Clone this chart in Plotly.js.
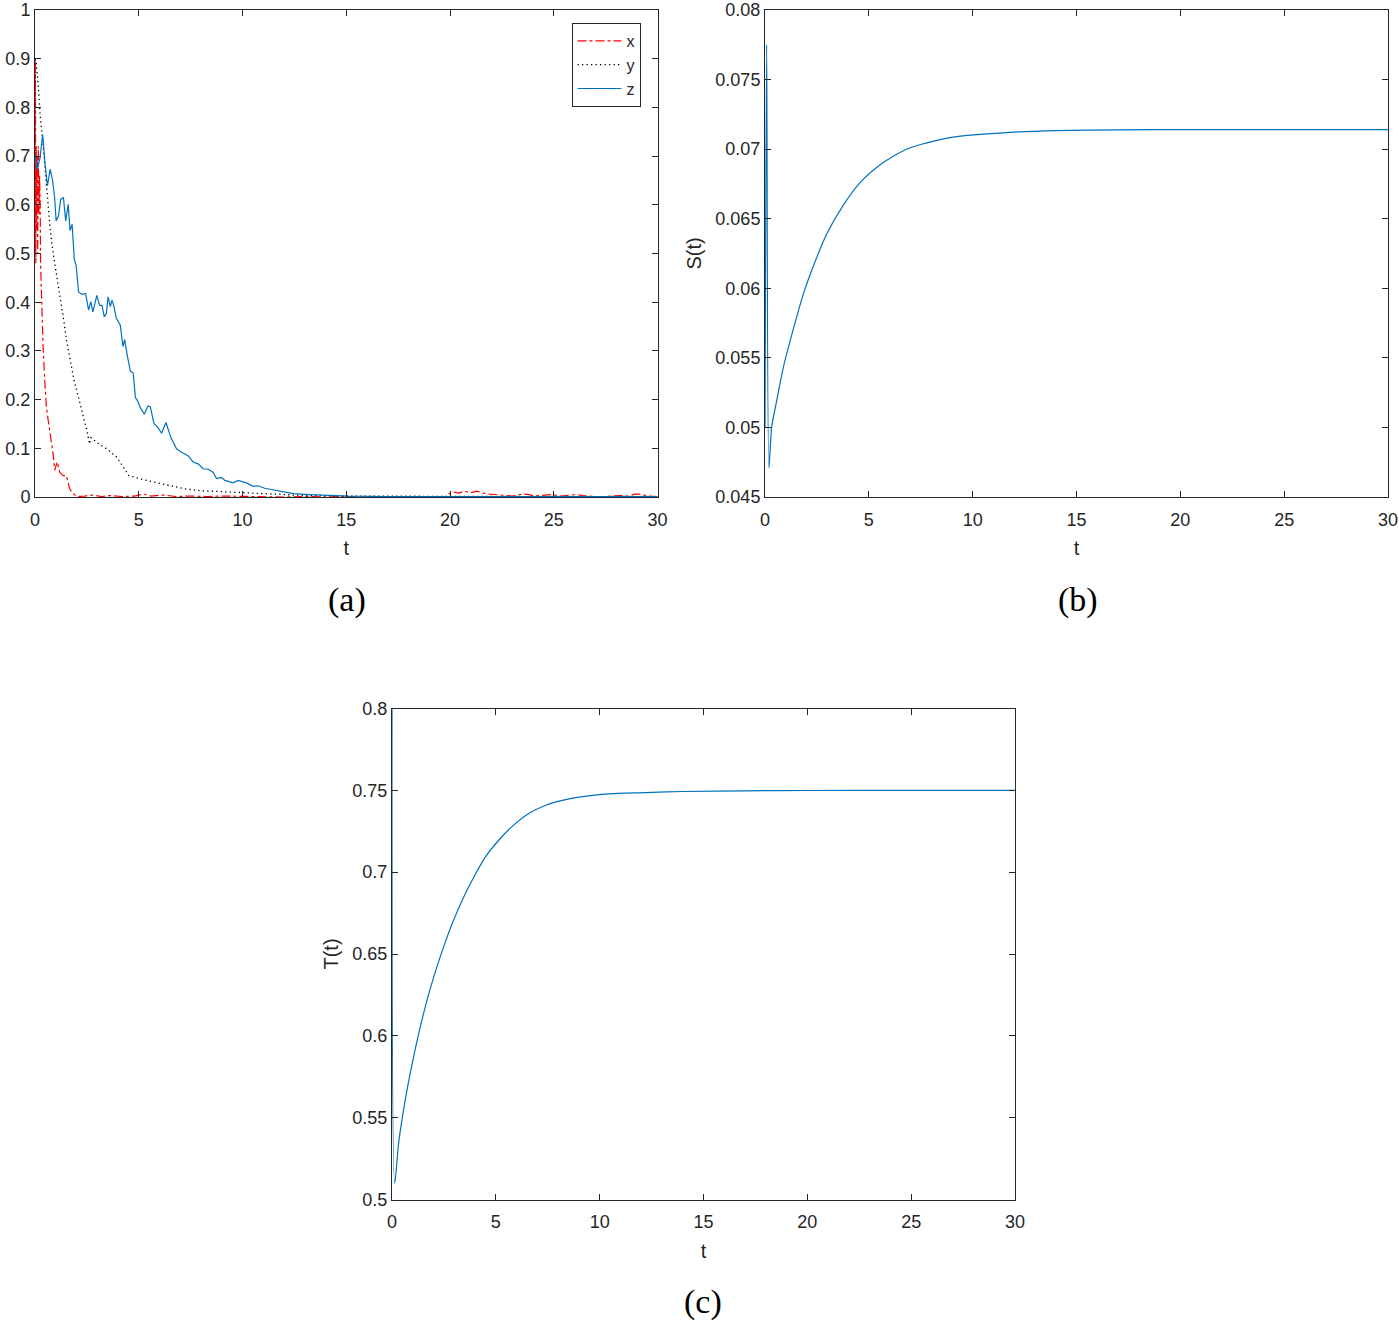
<!DOCTYPE html>
<html>
<head>
<meta charset="utf-8">
<script src="https://cdn.plot.ly/plotly-3.0.1.min.js"></script>
<style>
  body { margin: 0; background: #fff; }
  #chart { width: 1399px; height: 1320px; }
</style>
</head>
<body>
<div id="chart"></div>
<script>
// (a) x, y, z against t
var tX = [0, 0.02, 0.04, 0.06, 0.08, 0.1, 0.13, 0.16, 0.19, 0.22, 0.25, 0.27, 0.34, 0.39, 0.47, 0.55, 0.66, 0.79, 0.87, 0.95,
  1.07, 1.19, 1.35, 1.51, 1.67, 1.83, 2.04, 2.4, 2.75, 3.2, 3.6, 4.2, 4.8, 5.2, 5.6, 6.2, 6.8, 7.5, 8.3, 9.0,
  10, 11, 12, 13, 14, 15, 16, 17, 18, 19, 19.8, 20.1, 20.4, 20.7, 21.0, 21.3, 21.6, 21.9,
  22.3, 22.6, 23.0, 23.5, 23.8, 24.1, 24.6, 24.9, 25.3, 25.8, 26.1, 26.4, 27.0, 27.5, 27.9, 28.2, 28.6, 28.9, 29.2, 29.5, 30];
var xVals = [0.5, 0.9, 0.48, 0.72, 0.55, 0.7, 0.5, 0.72, 0.58, 0.66, 0.6, 0.478, 0.375, 0.307, 0.239, 0.184, 0.15, 0.116, 0.089, 0.055,
  0.072, 0.051, 0.044, 0.044, 0.017, 0.007, 0.001, 0.002, 0.004, 0.001, 0.003, 0.001, 0.002, 0.006, 0.002, 0.004, 0.001, 0.002, 0.001, 0.002,
  0.001, 0.001, 0, 0.001, 0, 0.001, 0, 0.001, 0, 0.001, 0.001, 0.011, 0.008, 0.012, 0.009, 0.012, 0.008, 0.006,
  0.004, 0.004, 0.002, 0.006, 0.005, 0.002, 0.004, 0.005, 0.002, 0.004, 0.005, 0.003, 0.001, 0.001, 0.003, 0.003, 0.002, 0.006, 0.006, 0.002, 0.001];

var tY = [0, 0.05, 0.16, 0.24, 0.37, 0.48, 0.6, 0.73, 0.89, 1.05, 1.21, 1.37, 1.53, 1.69, 1.89, 2.1, 2.31, 2.5, 2.63, 2.69,
  2.98, 3.47, 3.95, 4.27, 4.52, 5.08, 5.73, 6.37, 7.18, 7.98, 9, 10.3, 11.5, 13, 15, 18, 22, 26, 30];
var yVals = [0.9, 0.895, 0.842, 0.788, 0.734, 0.679, 0.618, 0.55, 0.496, 0.455, 0.414, 0.367, 0.319, 0.279, 0.238, 0.204, 0.17, 0.136, 0.109, 0.122,
  0.112, 0.0985, 0.0815, 0.061, 0.044, 0.037, 0.031, 0.024, 0.017, 0.013, 0.011, 0.009, 0.006, 0.003, 0.002, 0.001, 0.001, 0, 0];

var tZ = [0, 0.11, 0.24, 0.37, 0.48, 0.6, 0.73, 0.84, 0.94, 1.02, 1.13, 1.24, 1.37, 1.48, 1.6, 1.69, 1.79, 1.89, 1.98, 2.1,
  2.26, 2.44, 2.58, 2.69, 2.79, 2.98, 3.11, 3.23, 3.34, 3.44, 3.52, 3.63, 3.71, 3.79, 3.92, 4.03, 4.11, 4.24, 4.32, 4.44,
  4.6, 4.73, 4.84, 4.95, 5.08, 5.27, 5.44, 5.56, 5.73, 5.92, 6.1, 6.31, 6.55, 6.82, 7.06, 7.38, 7.62, 7.86, 8.1, 8.35,
  8.58, 8.75, 8.99, 9.15, 9.55, 9.79, 10.19, 10.51, 10.75, 11.07, 11.47, 11.95, 12.44, 13.24, 14.2, 15.1, 17, 20, 23, 26, 30];
var zVals = [0.703, 0.673, 0.696, 0.744, 0.686, 0.639, 0.673, 0.652, 0.618, 0.567, 0.577, 0.611, 0.615, 0.567, 0.601, 0.547, 0.56, 0.489, 0.476, 0.421,
  0.416, 0.418, 0.384, 0.401, 0.38, 0.414, 0.394, 0.393, 0.37, 0.377, 0.411, 0.391, 0.404, 0.394, 0.367, 0.357, 0.353, 0.309, 0.323, 0.292,
  0.258, 0.255, 0.204, 0.197, 0.183, 0.17, 0.187, 0.185, 0.151, 0.143, 0.131, 0.153, 0.122, 0.099, 0.092, 0.085, 0.072, 0.068, 0.058, 0.057,
  0.051, 0.038, 0.04, 0.034, 0.029, 0.034, 0.029, 0.022, 0.023, 0.018, 0.015, 0.01, 0.007, 0.005, 0.003, 0.002, 0.001, 0.001, 0.001, 0.001, 0.001];

// (b) S(t)
var tS = [0, 0.08, 0.19, 0.32, 0.56, 0.88, 1.37, 1.85, 2.33, 2.97, 3.78, 4.58, 5.39, 6.19, 6.99, 7.8, 8.6, 9.41, 10.21, 11.82, 14, 17, 20, 25, 30];
var sVals = [0.05, 0.0775, 0.0471, 0.05, 0.0519, 0.0543, 0.0571, 0.0596, 0.0616, 0.0639, 0.066, 0.0676, 0.0687, 0.0695, 0.0701, 0.07045,
  0.07074, 0.07093, 0.07104, 0.07121, 0.07133, 0.07139, 0.0714, 0.0714, 0.0714];

// (c) T(t)
var tT = [0, 0.13, 0.32, 0.64, 0.96, 1.29, 1.69, 2.09, 2.49, 2.89, 3.38, 3.86, 4.5, 5.14, 5.79, 6.59, 7.4, 8.2, 9.0, 9.97, 10.93, 12.2, 14, 17, 20, 25, 30];
var TVals = [0.8, 0.51, 0.5346, 0.561, 0.5823, 0.6016, 0.622, 0.6392, 0.6545, 0.6683, 0.6829, 0.6951, 0.7093, 0.7195, 0.728, 0.7358,
  0.7409, 0.7439, 0.7459, 0.7474, 0.7482, 0.7486, 0.7493, 0.7497, 0.7499, 0.75, 0.75];

var blue = '#0072BD';
var axCol = '#262626';
var tickFont = {family: 'Liberation Sans, Arial, sans-serif', size: 18, color: axCol};
var titleFont = {family: 'Liberation Sans, Arial, sans-serif', size: 20, color: axCol};

var traceX = {x: tX, y: xVals, name: 'x', mode: 'lines', xaxis: 'x', yaxis: 'y',
  line: {color: '#ff0000', width: 1.2, dash: 'dashdot'}};
var traceY = {x: tY, y: yVals, name: 'y', mode: 'lines', xaxis: 'x', yaxis: 'y',
  line: {color: '#000000', width: 1.3, dash: '1.3px,3.2px'}};
var traceZ = {x: tZ, y: zVals, name: 'z', mode: 'lines', xaxis: 'x', yaxis: 'y',
  line: {color: blue, width: 1.2}};
var traceS = {x: tS, y: sVals, name: 'S', mode: 'lines', xaxis: 'x2', yaxis: 'y2', showlegend: false,
  line: {color: blue, width: 1.2, shape: 'spline', smoothing: 0.8}};
var traceT = {x: tT, y: TVals, name: 'T', mode: 'lines', xaxis: 'x3', yaxis: 'y3', showlegend: false,
  line: {color: blue, width: 1.2, shape: 'spline', smoothing: 0.8}};

function ax(extra) {
  var base = {
    showline: true, linecolor: axCol, linewidth: 1, mirror: 'ticks',
    ticks: 'inside', ticklen: 6, tickcolor: axCol, tickwidth: 1,
    showgrid: false, zeroline: false, tickfont: tickFont, ticklabeloverflow: 'allow'
  };
  for (var k in extra) base[k] = extra[k];
  return base;
}

var W = 1399, H = 1320;
var topY = 10;   // top edge of the two upper panels, leaves room for the "1" / "0.08" labels
var xTitle = {text: 't', font: titleFont, standoff: 12};
var layout = {
  width: W, height: H,
  margin: {l: 0, r: 0, t: 0, b: 0},
  paper_bgcolor: '#fff', plot_bgcolor: '#fff',
  showlegend: true,
  legend: {
    x: 571.5 / W, y: 1 - 23 / H, xanchor: 'left', yanchor: 'top',
    bordercolor: axCol, borderwidth: 1, bgcolor: '#fff',
    font: {family: 'Liberation Sans, Arial, sans-serif', size: 16, color: axCol},
    itemwidth: 44, tracegroupgap: 0
  },
  xaxis: ax({domain: [35 / W, 657.5 / W], range: [0, 30], dtick: 5, anchor: 'y',
    ticklabelstandoff: 6, title: xTitle}),
  yaxis: ax({domain: [1 - 497 / H, 1 - topY / H], range: [0, 1], dtick: 0.1, anchor: 'x'}),
  xaxis2: ax({domain: [765 / W, 1388 / W], range: [0, 30], dtick: 5, anchor: 'y2',
    ticklabelstandoff: 6, title: xTitle}),
  yaxis2: ax({domain: [1 - 497 / H, 1 - topY / H], range: [0.045, 0.08], dtick: 0.005, anchor: 'x2',
    title: {text: 'S(t)', font: titleFont, standoff: 8}}),
  xaxis3: ax({domain: [392 / W, 1015 / W], range: [0, 30], dtick: 5, anchor: 'y3',
    ticklabelstandoff: 6, title: xTitle}),
  yaxis3: ax({domain: [1 - 1199.5 / H, 1 - 708.5 / H], range: [0.5, 0.8], dtick: 0.05, anchor: 'x3',
    title: {text: 'T(t)', font: titleFont, standoff: 8}}),
  annotations: [
    {text: '(a)', x: 347 / W, y: 1 - 600 / H, xref: 'paper', yref: 'paper', showarrow: false,
      xanchor: 'center', yanchor: 'middle', font: {family: 'Liberation Serif, serif', size: 34, color: '#000'}},
    {text: '(b)', x: 1078 / W, y: 1 - 600 / H, xref: 'paper', yref: 'paper', showarrow: false,
      xanchor: 'center', yanchor: 'middle', font: {family: 'Liberation Serif, serif', size: 34, color: '#000'}},
    {text: '(c)', x: 703 / W, y: 1 - 1302 / H, xref: 'paper', yref: 'paper', showarrow: false,
      xanchor: 'center', yanchor: 'middle', font: {family: 'Liberation Serif, serif', size: 34, color: '#000'}}
  ]
};

Plotly.newPlot('chart', [traceX, traceY, traceZ, traceS, traceT], layout, {staticPlot: true});
</script>
</body>
</html>
